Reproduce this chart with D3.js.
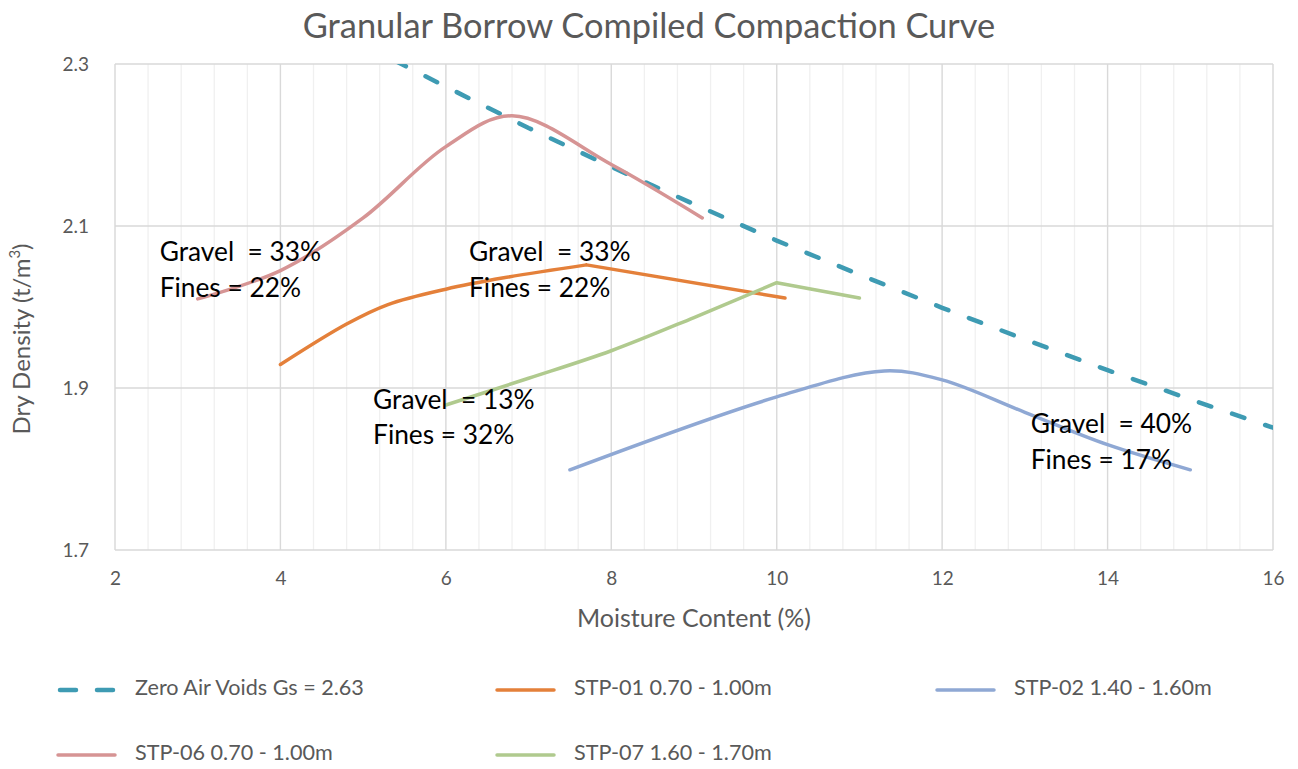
<!DOCTYPE html>
<html>
<head>
<meta charset="utf-8">
<script src="https://cdn.jsdelivr.net/npm/d3@7"></script>
<style>
  html, body { margin: 0; padding: 0; background: #ffffff; }
  svg { display: block; }
</style>
</head>
<body>
<svg id="chart" width="1298" height="769"></svg>
<script>
// ---------------- DATA ----------------
const chartTitle = "Granular Borrow Compiled Compaction Curve";
const xTitle = "Moisture Content (%)";
const xTicks = [2, 4, 6, 8, 10, 12, 14, 16];
const yTicks = [1.7, 1.9, 2.1, 2.3];

// Zero Air Voids Gs = 2.63
const zavMoisture = [5, 6, 7, 8, 9, 10, 11, 12, 13, 14, 15, 16];
const zavDensity  = [2.324, 2.272, 2.221, 2.173, 2.127, 2.082, 2.040, 1.999, 1.960, 1.922, 1.886, 1.851];

// STP-01 0.70 - 1.00m  (peak at 7.7 is a sharp corner)
const stp01Moisture = [4, 4.8, 5.3, 6.0, 6.7, 7.7, 10.1];
const stp01Density  = [1.929, 1.979, 2.003, 2.022, 2.036, 2.052, 2.011];

// STP-02 1.40 - 1.60m
const stp02Moisture = [7.5, 10, 11.3, 12, 13, 14, 15];
const stp02Density  = [1.799, 1.889, 1.921, 1.910, 1.870, 1.830, 1.799];

// STP-06 0.70 - 1.00m
const stp06Moisture = [3, 4, 5, 6, 6.8, 8, 9.1];
const stp06Density  = [2.010, 2.045, 2.110, 2.198, 2.236, 2.176, 2.110];

// STP-07 1.60 - 1.70m  (peak at 10 is a sharp corner)
const stp07Moisture = [6, 7, 8, 9, 10, 11];
const stp07Density  = [1.879, 1.912, 1.946, 1.987, 2.030, 2.011];

const seriesNames = ["Zero Air Voids Gs = 2.63", "STP-01 0.70 - 1.00m", "STP-02 1.40 - 1.60m", "STP-06 0.70 - 1.00m", "STP-07 1.60 - 1.70m"];

const annotationX = [2.54, 6.28, 5.12, 13.07];
const annotationY = [2.065, 2.065, 1.883, 1.853];
const annotationLine1 = ["Gravel  = 33%", "Gravel  = 33%", "Gravel  = 13%", "Gravel  = 40%"];
const annotationLine2 = ["Fines = 22%", "Fines = 22%", "Fines = 32%", "Fines = 17%"];

// ---------------- LAYOUT ----------------
const svg = d3.select("#chart");
const pLeft = 115, pRight = 1273, pTop = 64, pBottom = 550;
const x = d3.scaleLinear().domain([2, 16]).range([pLeft, pRight]);
const y = d3.scaleLinear().domain([1.7, 2.3]).range([pBottom, pTop]);
const font = "Lato, 'Carlito', Calibri, sans-serif";
const grey = "#595959";

// minor vertical gridlines
const minorX = d3.range(2, 16.0001, 0.4);
svg.append("g").selectAll("line").data(minorX).join("line")
  .attr("x1", d => x(d)).attr("x2", d => x(d))
  .attr("y1", pTop).attr("y2", pBottom)
  .attr("stroke", "#f0f0f0").attr("stroke-width", 1.3);

// major gridlines
svg.append("g").selectAll("line").data(xTicks).join("line")
  .attr("x1", d => x(d)).attr("x2", d => x(d))
  .attr("y1", pTop).attr("y2", pBottom)
  .attr("stroke", "#d9d9d9").attr("stroke-width", 1.3);
svg.append("g").selectAll("line").data(yTicks).join("line")
  .attr("x1", pLeft).attr("x2", pRight)
  .attr("y1", d => y(d)).attr("y2", d => y(d))
  .attr("stroke", "#d9d9d9").attr("stroke-width", 1.3);

// axes (labels only)
const xAxis = svg.append("g").attr("transform", `translate(0,${pBottom})`)
  .call(d3.axisBottom(x).tickValues(xTicks).tickSize(0).tickPadding(22).tickFormat(d3.format("d")));
const yAxis = svg.append("g").attr("transform", `translate(${pLeft},0)`)
  .call(d3.axisLeft(y).tickValues(yTicks).tickSize(0).tickPadding(26).tickFormat(d3.format(".1f")));
[xAxis, yAxis].forEach(a => {
  a.select(".domain").remove();
  a.selectAll("text").attr("font-family", font).attr("font-size", 19).attr("fill", grey);
});

// clip
svg.append("clipPath").attr("id", "plotclip").append("rect")
  .attr("x", pLeft).attr("y", pTop).attr("width", pRight - pLeft).attr("height", pBottom - pTop);

const zip = (xs, ys) => xs.map((v, i) => [v, ys[i]]);
const series = [
  { name: seriesNames[0], pts: zip(zavMoisture, zavDensity), color: "#3e9bb3", dash: "13,22", width: 4.5, smooth: false, corner: null },
  { name: seriesNames[1], pts: zip(stp01Moisture, stp01Density), color: "#e4803a", dash: null, width: 3.5, smooth: true, corner: 5 },
  { name: seriesNames[2], pts: zip(stp02Moisture, stp02Density), color: "#8fa8d4", dash: null, width: 3.5, smooth: true, corner: null },
  { name: seriesNames[3], pts: zip(stp06Moisture, stp06Density), color: "#d69494", dash: null, width: 3.5, smooth: true, corner: null },
  { name: seriesNames[4], pts: zip(stp07Moisture, stp07Density), color: "#b0ca8e", dash: null, width: 3.5, smooth: true, corner: 4 }
];

const gLines = svg.append("g").attr("clip-path", "url(#plotclip)");
series.forEach(s => {
  const line = d3.line().x(d => x(d[0])).y(d => y(d[1]))
    .curve(s.smooth ? d3.curveCatmullRom.alpha(0.5) : d3.curveLinear);
  let d;
  if (s.corner !== null) {
    d = line(s.pts.slice(0, s.corner + 1)) + line(s.pts.slice(s.corner));
  } else {
    d = line(s.pts);
  }
  gLines.append("path")
    .attr("d", d)
    .attr("fill", "none")
    .attr("stroke", s.color)
    .attr("stroke-width", s.width)
    .attr("stroke-linecap", "round")
    .attr("stroke-linejoin", "round")
    .attr("stroke-dasharray", s.dash);
});

// annotations
const gAnn = svg.append("g");
annotationX.forEach((ax, i) => {
  const t = gAnn.append("text")
    .attr("x", x(ax)).attr("y", y(annotationY[i]))
    .attr("font-family", font).attr("font-size", 26.3).attr("fill", "#000")
    .attr("dominant-baseline", "middle")
    .style("white-space", "pre");
  t.append("tspan").attr("x", x(ax)).attr("dy", 0).text(annotationLine1[i]);
  t.append("tspan").attr("x", x(ax)).attr("dy", 35.5).text(annotationLine2[i]);
});

// title
svg.append("text").attr("x", 649).attr("y", 29)
  .attr("text-anchor", "middle").attr("dominant-baseline", "middle")
  .attr("font-family", font).attr("font-size", 34.4).attr("fill", grey)
  .text(chartTitle);

// x title
svg.append("text").attr("x", 694).attr("y", 621)
  .attr("text-anchor", "middle").attr("dominant-baseline", "middle")
  .attr("font-family", font).attr("font-size", 25).attr("fill", grey)
  .text(xTitle);

// y title with superscript
const yt = svg.append("text")
  .attr("transform", `translate(24,339) rotate(-90)`)
  .attr("text-anchor", "middle").attr("dominant-baseline", "middle")
  .attr("font-family", font).attr("font-size", 24).attr("fill", grey);
yt.append("tspan").text("Dry Density (t/m");
yt.append("tspan").attr("font-size", 15).attr("dy", -8).text("3");
yt.append("tspan").attr("dy", 8).text(")");

// legend
const legendPos = [[58, 690], [497, 690], [937, 690], [58, 755], [497, 755]];
const gLeg = svg.append("g");
series.forEach((s, i) => {
  const [lx, ly] = legendPos[i];
  gLeg.append("line")
    .attr("x1", s.dash ? lx + 2 : lx).attr("x2", s.dash ? lx + 55 : lx + 57)
    .attr("y1", ly).attr("y2", ly)
    .attr("stroke", s.color).attr("stroke-width", s.width)
    .attr("stroke-linecap", "round")
    .attr("stroke-dasharray", s.dash ? "16,21" : null);
  gLeg.append("text").attr("x", lx + 77).attr("y", ly)
    .attr("dominant-baseline", "middle")
    .attr("font-family", font).attr("font-size", 21.6).attr("fill", grey)
    .text(s.name);
});
</script>
</body>
</html>
